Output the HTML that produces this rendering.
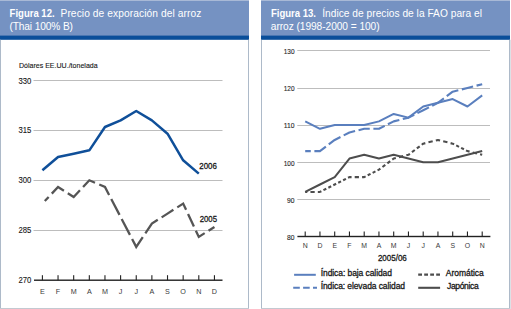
<!DOCTYPE html>
<html><head><meta charset="utf-8"><style>
html,body{margin:0;padding:0;background:#fff;width:511px;height:309px;overflow:hidden;}
svg{display:block;}
</style></head><body>
<svg width="511" height="309" viewBox="0 0 511 309" font-family='"Liberation Sans", sans-serif'>
<rect x="0" y="0" width="511" height="309" fill="#fff"/>
<rect x="0" y="0" width="249" height="36" fill="#7592c2"/>
<rect x="0" y="0" width="249" height="1" fill="#a8b9d6"/>
<rect x="0" y="35.6" width="249" height="4.2" fill="#0a4e9a"/>
<rect x="0" y="39.8" width="1" height="270" fill="#adbac9"/>
<rect x="248" y="39.8" width="1" height="270" fill="#adbac9"/>
<rect x="0" y="308" width="249" height="1" fill="#c3c9d1"/>
<rect x="261" y="0" width="249" height="36" fill="#7592c2"/>
<rect x="261" y="0" width="249" height="1" fill="#a8b9d6"/>
<rect x="261" y="35.6" width="249" height="4.2" fill="#0a4e9a"/>
<rect x="261" y="39.8" width="1" height="270" fill="#adbac9"/>
<rect x="509" y="39.8" width="1" height="270" fill="#adbac9"/>
<rect x="261" y="308" width="249" height="1" fill="#c3c9d1"/>
<rect x="510" y="39.8" width="1" height="270" fill="#dde1e6"/>
<text x="9.6" y="16.9" font-size="10.2" font-weight="bold" fill="#fff" textLength="45" lengthAdjust="spacingAndGlyphs" text-anchor="start">Figura 12.</text>
<text x="60.5" y="16.9" font-size="10.2" font-weight="normal" fill="#fff" textLength="140.8" lengthAdjust="spacing" text-anchor="start">Precio de exporación del arroz</text>
<text x="9.4" y="30.2" font-size="10.2" font-weight="normal" fill="#fff" textLength="63.6" lengthAdjust="spacing" text-anchor="start">(Thai 100% B)</text>
<text x="270.9" y="16.9" font-size="10.2" font-weight="bold" fill="#fff" textLength="45.1" lengthAdjust="spacingAndGlyphs" text-anchor="start">Figura 13.</text>
<text x="322.2" y="16.9" font-size="10.2" font-weight="normal" fill="#fff" textLength="159.8" lengthAdjust="spacing" text-anchor="start">Índice de precios de la FAO para el</text>
<text x="270.8" y="30.2" font-size="10.2" font-weight="normal" fill="#fff" textLength="108.8" lengthAdjust="spacing" text-anchor="start">arroz (1998-2000 = 100)</text>
<text x="18.9" y="68.2" font-size="7.9" font-weight="normal" fill="#161616" textLength="78.8" lengthAdjust="spacingAndGlyphs" text-anchor="start" stroke="#161616" stroke-width="0.12">Dólares EE.UU./tonelada</text>
<rect x="33.5" y="80" width="189" height="1" fill="#bdbdbd"/>
<rect x="33.5" y="130" width="189" height="1" fill="#bdbdbd"/>
<rect x="33.5" y="180" width="189" height="1" fill="#bdbdbd"/>
<rect x="33.5" y="230" width="189" height="1" fill="#bdbdbd"/>
<text x="18.4" y="83.5" font-size="8.2" font-weight="normal" fill="#161616" textLength="12.9" lengthAdjust="spacingAndGlyphs" text-anchor="start" stroke="#161616" stroke-width="0.1">330</text>
<text x="18.4" y="133.45000000000002" font-size="8.2" font-weight="normal" fill="#161616" textLength="12.9" lengthAdjust="spacingAndGlyphs" text-anchor="start" stroke="#161616" stroke-width="0.1">315</text>
<text x="18.4" y="183.4" font-size="8.2" font-weight="normal" fill="#161616" textLength="12.9" lengthAdjust="spacingAndGlyphs" text-anchor="start" stroke="#161616" stroke-width="0.1">300</text>
<text x="18.4" y="233.35" font-size="8.2" font-weight="normal" fill="#161616" textLength="12.9" lengthAdjust="spacingAndGlyphs" text-anchor="start" stroke="#161616" stroke-width="0.1">285</text>
<text x="18.4" y="283.30000000000007" font-size="8.2" font-weight="normal" fill="#161616" textLength="12.9" lengthAdjust="spacingAndGlyphs" text-anchor="start" stroke="#161616" stroke-width="0.1">270</text>
<rect x="34" y="279.50" width="188.5" height="1.4" fill="#222"/>
<rect x="41.85" y="275.20" width="1.1" height="5" fill="#222"/>
<rect x="57.49" y="275.20" width="1.1" height="5" fill="#222"/>
<rect x="73.13" y="275.20" width="1.1" height="5" fill="#222"/>
<rect x="88.77" y="275.20" width="1.1" height="5" fill="#222"/>
<rect x="104.41" y="275.20" width="1.1" height="5" fill="#222"/>
<rect x="120.05" y="275.20" width="1.1" height="5" fill="#222"/>
<rect x="135.69" y="275.20" width="1.1" height="5" fill="#222"/>
<rect x="151.33" y="275.20" width="1.1" height="5" fill="#222"/>
<rect x="166.97" y="275.20" width="1.1" height="5" fill="#222"/>
<rect x="182.61" y="275.20" width="1.1" height="5" fill="#222"/>
<rect x="198.25" y="275.20" width="1.1" height="5" fill="#222"/>
<rect x="213.89" y="275.20" width="1.1" height="5" fill="#222"/>
<text x="42.40" y="294" font-size="7.2" fill="#3a3a3a" text-anchor="middle">E</text>
<text x="58.04" y="294" font-size="7.2" fill="#3a3a3a" text-anchor="middle">F</text>
<text x="73.68" y="294" font-size="7.2" fill="#3a3a3a" text-anchor="middle">M</text>
<text x="89.32" y="294" font-size="7.2" fill="#3a3a3a" text-anchor="middle">A</text>
<text x="104.96" y="294" font-size="7.2" fill="#3a3a3a" text-anchor="middle">M</text>
<text x="120.60" y="294" font-size="7.2" fill="#3a3a3a" text-anchor="middle">J</text>
<text x="136.24" y="294" font-size="7.2" fill="#3a3a3a" text-anchor="middle">J</text>
<text x="151.88" y="294" font-size="7.2" fill="#3a3a3a" text-anchor="middle">A</text>
<text x="167.52" y="294" font-size="7.2" fill="#3a3a3a" text-anchor="middle">S</text>
<text x="183.16" y="294" font-size="7.2" fill="#3a3a3a" text-anchor="middle">O</text>
<text x="198.80" y="294" font-size="7.2" fill="#3a3a3a" text-anchor="middle">N</text>
<text x="214.44" y="294" font-size="7.2" fill="#3a3a3a" text-anchor="middle">D</text>
<polyline points="42.40,170.31 58.04,156.99 73.68,153.66 89.32,150.33 104.96,127.02 120.60,120.36 136.24,111.04 151.88,120.36 167.52,133.68 183.16,160.32 198.80,173.64" fill="none" stroke="#0f4f99" stroke-width="2.5" stroke-linejoin="round"/>
<path d="M44.80,201.06 L48.65,196.96 M51.79,193.61 L58.04,186.96 L63.92,190.72 M67.80,193.19 L73.68,196.95 L79.93,190.30 M83.07,186.95 L89.32,180.30 L95.02,182.73 M99.26,184.53 L104.96,186.96 L109.11,194.91 M111.24,198.99 L119.54,214.89 M121.66,218.97 L129.96,234.87 M132.09,238.95 L136.24,246.90 L142.78,237.15 M145.34,233.34 L151.88,223.59 L157.76,219.83 M161.64,217.36 L167.52,213.60 L173.40,209.84 M177.28,207.37 L183.16,203.61 L186.09,209.85 M188.05,214.02 L193.91,226.50 M195.87,230.67 L198.80,236.91 L204.68,233.15 M208.56,230.68 L214.44,226.92" fill="none" stroke="#555555" stroke-width="2.3" stroke-linejoin="miter"/>
<text x="199.3" y="168.8" font-size="8.6" font-weight="normal" fill="#161616" textLength="17.5" lengthAdjust="spacingAndGlyphs" text-anchor="start" stroke="#161616" stroke-width="0.28">2006</text>
<text x="199.7" y="221.6" font-size="8.6" font-weight="normal" fill="#161616" textLength="17.3" lengthAdjust="spacingAndGlyphs" text-anchor="start" stroke="#161616" stroke-width="0.28">2005</text>
<rect x="297.3" y="50" width="192.7" height="1" fill="#bdbdbd"/>
<rect x="297.3" y="88" width="192.7" height="1" fill="#bdbdbd"/>
<rect x="297.3" y="125" width="192.7" height="1" fill="#bdbdbd"/>
<rect x="297.3" y="162" width="192.7" height="1" fill="#bdbdbd"/>
<rect x="297.3" y="199" width="192.7" height="1" fill="#bdbdbd"/>
<text x="294.5" y="54.20" font-size="7.5" fill="#262626" stroke="#262626" stroke-width="0.12" text-anchor="end" textLength="10.8" lengthAdjust="spacingAndGlyphs">130</text>
<text x="294.5" y="91.34" font-size="7.5" fill="#262626" stroke="#262626" stroke-width="0.12" text-anchor="end" textLength="10.8" lengthAdjust="spacingAndGlyphs">120</text>
<text x="294.5" y="128.48" font-size="7.5" fill="#262626" stroke="#262626" stroke-width="0.12" text-anchor="end" textLength="10.8" lengthAdjust="spacingAndGlyphs">110</text>
<text x="294.5" y="165.62" font-size="7.5" fill="#262626" stroke="#262626" stroke-width="0.12" text-anchor="end" textLength="10.8" lengthAdjust="spacingAndGlyphs">100</text>
<text x="294.5" y="202.76" font-size="7.5" fill="#262626" stroke="#262626" stroke-width="0.12" text-anchor="end" textLength="7.5" lengthAdjust="spacingAndGlyphs">90</text>
<text x="294.5" y="239.90" font-size="7.5" fill="#262626" stroke="#262626" stroke-width="0.12" text-anchor="end" textLength="7.5" lengthAdjust="spacingAndGlyphs">80</text>
<rect x="297.4" y="235.80" width="193" height="1.4" fill="#222"/>
<rect x="304.65" y="231.50" width="1.1" height="5" fill="#222"/>
<rect x="319.40" y="231.50" width="1.1" height="5" fill="#222"/>
<rect x="334.15" y="231.50" width="1.1" height="5" fill="#222"/>
<rect x="348.90" y="231.50" width="1.1" height="5" fill="#222"/>
<rect x="363.65" y="231.50" width="1.1" height="5" fill="#222"/>
<rect x="378.40" y="231.50" width="1.1" height="5" fill="#222"/>
<rect x="393.15" y="231.50" width="1.1" height="5" fill="#222"/>
<rect x="407.90" y="231.50" width="1.1" height="5" fill="#222"/>
<rect x="422.65" y="231.50" width="1.1" height="5" fill="#222"/>
<rect x="437.40" y="231.50" width="1.1" height="5" fill="#222"/>
<rect x="452.15" y="231.50" width="1.1" height="5" fill="#222"/>
<rect x="466.90" y="231.50" width="1.1" height="5" fill="#222"/>
<rect x="481.65" y="231.50" width="1.1" height="5" fill="#222"/>
<text x="305.20" y="248" font-size="6.9" fill="#3a3a3a" text-anchor="middle">N</text>
<text x="319.95" y="248" font-size="6.9" fill="#3a3a3a" text-anchor="middle">D</text>
<text x="334.70" y="248" font-size="6.9" fill="#3a3a3a" text-anchor="middle">E</text>
<text x="349.45" y="248" font-size="6.9" fill="#3a3a3a" text-anchor="middle">F</text>
<text x="364.20" y="248" font-size="6.9" fill="#3a3a3a" text-anchor="middle">M</text>
<text x="378.95" y="248" font-size="6.9" fill="#3a3a3a" text-anchor="middle">A</text>
<text x="393.70" y="248" font-size="6.9" fill="#3a3a3a" text-anchor="middle">M</text>
<text x="408.45" y="248" font-size="6.9" fill="#3a3a3a" text-anchor="middle">J</text>
<text x="423.20" y="248" font-size="6.9" fill="#3a3a3a" text-anchor="middle">J</text>
<text x="437.95" y="248" font-size="6.9" fill="#3a3a3a" text-anchor="middle">A</text>
<text x="452.70" y="248" font-size="6.9" fill="#3a3a3a" text-anchor="middle">S</text>
<text x="467.45" y="248" font-size="6.9" fill="#3a3a3a" text-anchor="middle">O</text>
<text x="482.20" y="248" font-size="6.9" fill="#3a3a3a" text-anchor="middle">N</text>
<text x="377.9" y="260.8" font-size="8.6" font-weight="normal" fill="#161616" textLength="28.9" lengthAdjust="spacingAndGlyphs" text-anchor="start" stroke="#161616" stroke-width="0.28">2005/06</text>
<polyline points="305.20,121.37 319.95,128.79 334.70,125.08 349.45,125.08 364.20,125.08 378.95,121.37 393.70,113.94 408.45,117.65 423.20,106.51 437.95,102.80 452.70,99.08 467.45,106.51 482.20,95.37" fill="none" stroke="#5a7fbe" stroke-width="2.0" stroke-linejoin="round"/>
<path d="M305.20,151.08 L310.77,151.08 M314.38,151.08 L319.95,151.08 L325.89,146.59 M328.76,144.42 L334.70,139.94 L340.47,137.03 M343.68,135.41 L349.45,132.51 L355.08,131.09 M358.57,130.21 L364.20,128.79 L369.77,128.79 M373.38,128.79 L378.95,128.79 L384.72,125.89 M387.93,124.27 L393.70,121.37 L399.33,119.95 M402.82,119.07 L408.45,117.65 L414.22,114.75 M417.43,113.13 L423.20,110.22 L428.97,107.32 M432.18,105.70 L437.95,102.80 L443.89,98.31 M446.76,96.14 L452.70,91.65 L458.33,90.24 M461.82,89.36 L467.45,87.94 L473.08,86.52 M476.57,85.64 L482.20,84.23" fill="none" stroke="#5a7fbe" stroke-width="2.1" stroke-linejoin="round"/>
<path d="M305.20,191.93 L307.32,191.93 M310.45,191.93 L314.70,191.93 M317.83,191.93 L319.95,191.93 L321.37,191.22 M323.45,190.17 L326.28,188.74 M328.37,187.69 L331.20,186.27 M333.28,185.22 L334.70,184.50 L336.12,183.79 M338.20,182.74 L341.03,181.32 M343.12,180.26 L345.95,178.84 M348.03,177.79 L349.45,177.08 L351.57,177.08 M354.70,177.08 L358.95,177.08 M362.08,177.08 L364.20,177.08 L365.62,176.36 M367.70,175.31 L370.53,173.89 M372.62,172.84 L375.45,171.41 M377.53,170.36 L378.95,169.65 L380.37,168.58 M382.45,167.00 L385.28,164.86 M387.37,163.29 L390.20,161.15 M392.28,159.58 L393.70,158.51 L395.82,157.97 M398.95,157.18 L403.20,156.11 M406.33,155.33 L408.45,154.79 L409.87,153.72 M411.95,152.15 L414.78,150.01 M416.87,148.43 L419.70,146.29 M421.78,144.72 L423.20,143.65 L425.32,143.12 M428.45,142.33 L432.70,141.26 M435.83,140.47 L437.95,139.94 L440.07,140.47 M443.20,141.26 L447.45,142.33 M450.58,143.12 L452.70,143.65 L454.12,144.36 M456.20,145.41 L459.03,146.84 M461.12,147.89 L463.95,149.31 M466.03,150.37 L467.45,151.08 L469.57,151.61 M472.70,152.40 L476.95,153.47 M480.08,154.26 L482.20,154.79" fill="none" stroke="#4d4d4d" stroke-width="2.1" stroke-linejoin="round"/>
<polyline points="305.20,191.93 319.95,184.50 334.70,177.08 349.45,158.51 364.20,154.79 378.95,158.51 393.70,154.79 408.45,158.51 423.20,162.22 437.95,162.22 452.70,158.51 467.45,154.79 482.20,151.08" fill="none" stroke="#4d4d4d" stroke-width="2.0" stroke-linejoin="round"/>
<line x1="294.1" y1="274.8" x2="315.8" y2="274.8" stroke="#5a7fbe" stroke-width="2"/>
<line x1="293.2" y1="287.8" x2="317" y2="287.8" stroke="#5a7fbe" stroke-width="2" stroke-dasharray="6.6 3.3"/>
<line x1="418.2" y1="274.7" x2="440.2" y2="274.7" stroke="#4d4d4d" stroke-width="2.3" stroke-dasharray="3.8 2.2"/>
<line x1="418.2" y1="287.8" x2="440.1" y2="287.8" stroke="#4d4d4d" stroke-width="2.1"/>
<text x="320.7" y="275.9" font-size="8.5" font-weight="normal" fill="#161616" textLength="71.3" lengthAdjust="spacing" text-anchor="start" stroke="#161616" stroke-width="0.28">Índica: baja calidad</text>
<text x="320.7" y="289.1" font-size="8.5" font-weight="normal" fill="#161616" textLength="84.3" lengthAdjust="spacing" text-anchor="start" stroke="#161616" stroke-width="0.28">Índica: elevada calidad</text>
<text x="445.8" y="275.9" font-size="8.5" font-weight="normal" fill="#161616" textLength="38" lengthAdjust="spacing" text-anchor="start" stroke="#161616" stroke-width="0.28">Aromática</text>
<text x="447" y="289.1" font-size="8.5" font-weight="normal" fill="#161616" textLength="31.7" lengthAdjust="spacing" text-anchor="start" stroke="#161616" stroke-width="0.28">Japónica</text>
</svg>
</body></html>
